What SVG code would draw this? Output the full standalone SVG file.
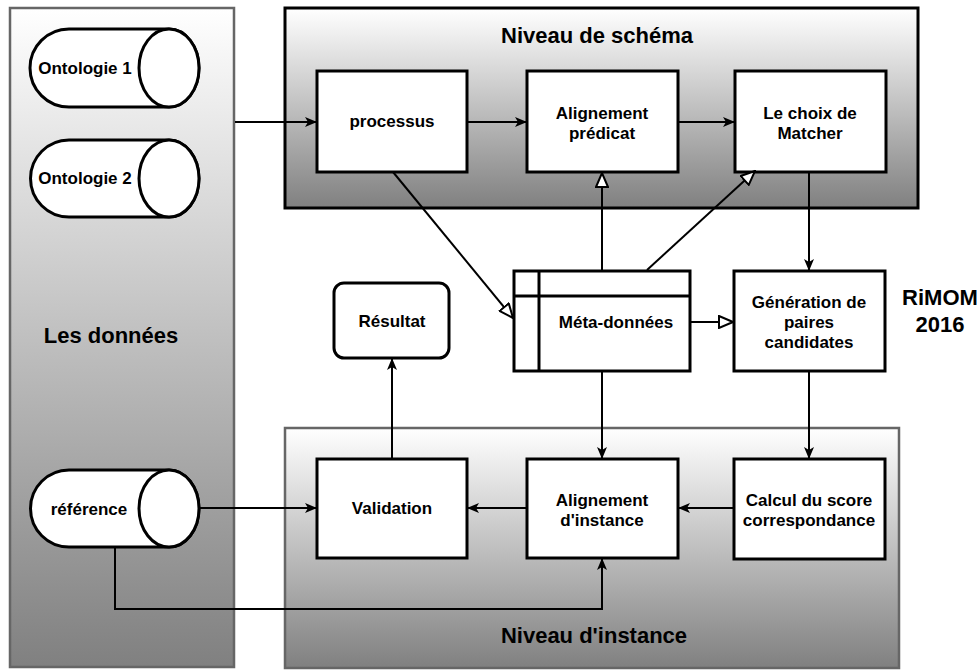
<svg xmlns="http://www.w3.org/2000/svg" width="980" height="671" viewBox="0 0 980 671">
  <defs>
    <linearGradient id="fade" x1="0" y1="0" x2="0" y2="1">
      <stop offset="0" stop-color="#ffffff"/>
      <stop offset="1" stop-color="#808080"/>
    </linearGradient>
    <marker id="solid" viewBox="0 0 12 12" refX="11" refY="6" markerWidth="12" markerHeight="12" markerUnits="userSpaceOnUse" orient="auto">
      <path d="M0,1 L12,6 L0,11 L3,6 Z" fill="#000"/>
    </marker>
    <marker id="hollow" viewBox="0 0 16 14" refX="15" refY="7" markerWidth="16" markerHeight="14" markerUnits="userSpaceOnUse" orient="auto">
      <path d="M1,1 L15,7 L1,13 Z" fill="#fff" stroke="#000" stroke-width="2"/>
    </marker>
  </defs>
  <style>
    .node { fill: #fff; stroke: #000; stroke-width: 3; }
    .lbl { font-family: "Liberation Sans", Arial, sans-serif; font-weight: bold; font-size: 17px; fill: #000; text-anchor: middle; }
    .big { font-family: "Liberation Sans", Arial, sans-serif; font-weight: bold; font-size: 22px; fill: #000; text-anchor: middle; }
    .edge { fill: none; stroke: #000; stroke-width: 2; }
    .to { marker-end: url(#solid); }
    .open { marker-end: url(#hollow); }
  </style>

  <rect width="980" height="671" fill="#fff"/>

  <!-- data sources panel -->
  <g id="donnees">
    <rect x="10" y="8" width="224" height="659" fill="url(#fade)" stroke="#666" stroke-width="2.5"/>
    <text class="big" x="111" y="343">Les données</text>
  </g>

  <!-- schema level container -->
  <g id="niveau-schema">
    <rect x="285" y="8" width="633" height="200" fill="url(#fade)" stroke="#000" stroke-width="3"/>
    <text class="big" x="597" y="43">Niveau de schéma</text>
  </g>

  <!-- instance level container -->
  <g id="niveau-instance">
    <rect x="285" y="428" width="614" height="240" fill="url(#fade)" stroke="#666" stroke-width="2.5"/>
    <text class="big" x="594" y="643">Niveau d'instance</text>
  </g>

  <!-- storage cylinders -->
  <g id="ontologie1">
    <path class="node" d="M69,29 H169 A30,39 0 0 1 169,107 H69 A39,39 0 0 1 69,29 Z"/>
    <ellipse class="node" cx="169" cy="68" rx="30" ry="39"/>
    <text class="lbl" x="85" y="74">Ontologie 1</text>
  </g>
  <g id="ontologie2">
    <path class="node" d="M69,140 H169 A30,38.5 0 0 1 169,217 H69 A38.5,38.5 0 0 1 69,140 Z"/>
    <ellipse class="node" cx="169" cy="178.5" rx="30" ry="38.5"/>
    <text class="lbl" x="85" y="184">Ontologie 2</text>
  </g>
  <g id="reference">
    <path class="node" d="M69,470 H169 A30,38.5 0 0 1 169,547 H69 A38.5,38.5 0 0 1 69,470 Z"/>
    <ellipse class="node" cx="169" cy="508.5" rx="30" ry="38.5"/>
    <text class="lbl" x="89" y="515">référence</text>
  </g>

  <!-- process boxes -->
  <g id="processus">
    <rect class="node" x="317" y="71" width="150" height="101"/>
    <text class="lbl" x="392" y="127">processus</text>
  </g>
  <g id="alignement-predicat">
    <rect class="node" x="527" y="71" width="151" height="101"/>
    <text class="lbl" x="602" y="119">Alignement</text>
    <text class="lbl" x="602" y="139">prédicat</text>
  </g>
  <g id="choix-matcher">
    <rect class="node" x="735" y="71" width="151" height="101"/>
    <text class="lbl" x="810" y="119">Le choix de</text>
    <text class="lbl" x="810" y="139">Matcher</text>
  </g>

  <g id="meta-donnees">
    <rect class="node" x="514" y="271" width="176" height="100"/>
    <line x1="514" y1="296" x2="690" y2="296" stroke="#000" stroke-width="3"/>
    <line x1="539" y1="271" x2="539" y2="371" stroke="#000" stroke-width="3"/>
    <text class="lbl" x="616" y="328">Méta-données</text>
  </g>

  <g id="generation">
    <rect class="node" x="734" y="271" width="151" height="100"/>
    <text class="lbl" x="809" y="308">Génération de</text>
    <text class="lbl" x="809" y="328">paires</text>
    <text class="lbl" x="809" y="348">candidates</text>
  </g>

  <g id="rimom">
    <text class="big" x="940" y="305">RiMOM</text>
    <text class="big" x="940" y="332">2016</text>
  </g>

  <g id="resultat">
    <rect class="node" x="334" y="283" width="115" height="75" rx="10" ry="10"/>
    <text class="lbl" x="392" y="327">Résultat</text>
  </g>

  <g id="validation">
    <rect class="node" x="317" y="459" width="150" height="99"/>
    <text class="lbl" x="392" y="514">Validation</text>
  </g>
  <g id="alignement-instance">
    <rect class="node" x="527" y="459" width="151" height="99"/>
    <text class="lbl" x="602" y="506">Alignement</text>
    <text class="lbl" x="602" y="526">d'instance</text>
  </g>
  <g id="calcul-score">
    <rect class="node" x="734" y="459" width="151" height="100"/>
    <text class="lbl" x="809" y="506">Calcul du score</text>
    <text class="lbl" x="809" y="526">correspondance</text>
  </g>

  <!-- connectors -->
  <g id="connectors">
    <path class="edge to" d="M235,122 H316"/>
    <path class="edge to" d="M467,122 H526"/>
    <path class="edge to" d="M678,122 H734"/>
    <path class="edge open" d="M393,172 L513,318"/>
    <path class="edge open" d="M602,270 V173"/>
    <path class="edge open" d="M647,270 L755,171"/>
    <path class="edge open" d="M690,322 H733"/>
    <path class="edge to" d="M809,172 V270"/>
    <path class="edge to" d="M809,371 V458"/>
    <path class="edge to" d="M602,371 V458"/>
    <path class="edge to" d="M734,508 H679"/>
    <path class="edge to" d="M527,508 H468"/>
    <path class="edge to" d="M392,459 V359"/>
    <path class="edge to" d="M200,508 H316"/>
    <path class="edge to" d="M115,547 V609 H602 V559"/>
  </g>
</svg>
